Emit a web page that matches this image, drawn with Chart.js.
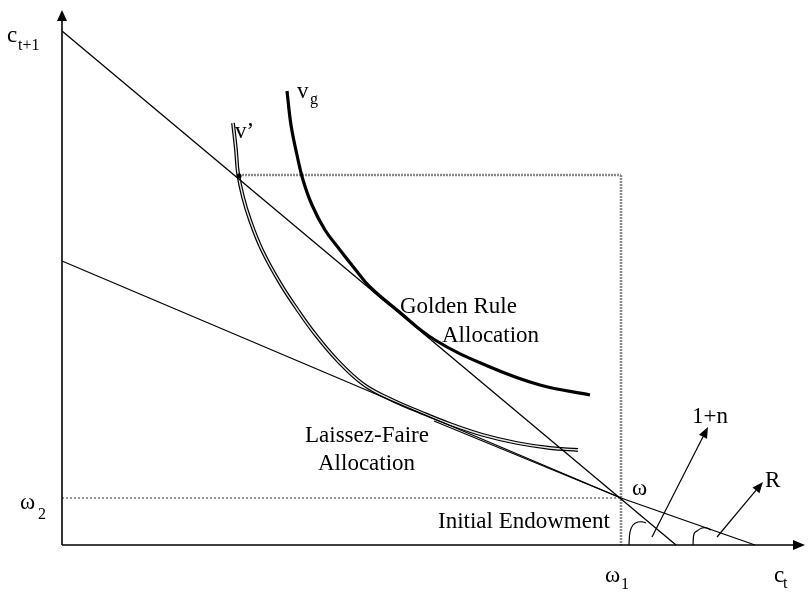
<!DOCTYPE html>
<html>
<head>
<meta charset="utf-8">
<title>Golden Rule vs Laissez-Faire</title>
<script src="https://cdn.jsdelivr.net/npm/chart.js@4.4.1/dist/chart.umd.min.js"></script>
<style>
  body { margin: 0; background: #fff; }
  #wrap { position: relative; width: 809px; height: 592px; }
</style>
</head>
<body>
<div id="wrap"><canvas id="diagram"></canvas></div>
<script>
  // values (units: c_t to the right, c_t+1 upward)
  var omega1 = 559;
  var omega2 = 47;

  // budget line with slope 1+n (golden rule)
  var steepX = [0, 614];
  var steepY = [514, 0];

  // budget line with slope R (laissez-faire), slightly bent at omega as drawn
  var flatX = [0, omega1, 693];
  var flatY = [284, omega2, 0];

  // second stroke that doubles the R line between tangency and omega
  var flatDoubleX = [372, omega1];
  var flatDoubleY = [124, omega2];

  // indifference curve v_g (thick)
  var goldenX = [225, 229, 235, 241, 250, 263, 278, 293, 308, 335, 373, 428, 478, 528];
  var goldenY = [454, 420, 390, 365, 340, 315, 295, 276, 258, 235, 205, 178, 160, 150];

  // indifference curve v' (double line)
  var laissezX = [171, 174, 176, 181, 188, 200, 218, 235, 253, 275, 301, 328, 358, 388, 421, 455, 488, 516];
  var laissezY = [422, 395, 372, 348, 325, 295, 262, 236, 211, 185, 161, 146, 133, 121, 110, 102, 97, 95];

  // point where v' meets the 1+n line
  var vPrimePoint = [177, 369];

  // angle marks at the two x-intercepts
  var arcNX = [567, 568, 571, 576, 581, 584];
  var arcNY = [0, 13, 20, 23, 23, 22];
  var arcRX = [631, 632, 635, 640, 645, 649];
  var arcRY = [0, 11, 14, 17, 17, 15];

  var xMax = 743;
  var yMax = 535;

  // arrows: axes plus the two slope vectors
  var arrows = [
    { from: [0, 0], to: [0, yMax], w: 1.6, len: 11, half: 5 },
    { from: [0, 0], to: [xMax, 0], w: 1.6, len: 12, half: 5 },
    { from: [590, 8], to: [646, 118], w: 1.2, len: 11, half: 4.5 },
    { from: [655, 8], to: [701, 63], w: 1.2, len: 11, half: 4.5 }
  ];

  // text labels (size 23 = main, 16 = subscript)
  var labels = [
    { t: "c", x: -55, y: 503, s: 23 },
    { t: "t+1", x: -44, y: 495, s: 16 },
    { t: "\u03c9", x: -42, y: 36, s: 23 },
    { t: "2", x: -24, y: 26, s: 16 },
    { t: "\u03c9", x: 543, y: -37, s: 23 },
    { t: "1", x: 559, y: -44, s: 16 },
    { t: "c", x: 712, y: -37, s: 23 },
    { t: "t", x: 721, y: -43, s: 16 },
    { t: "\u03c9", x: 570, y: 50, s: 23 },
    { t: "1+n", x: 630, y: 122, s: 23 },
    { t: "R", x: 703, y: 58, s: 23 },
    { t: "Initial Endowment", x: 376, y: 17, s: 23 },
    { t: "Golden Rule", x: 338, y: 232, s: 23 },
    { t: "Allocation", x: 380, y: 203, s: 23 },
    { t: "Laissez-Faire", x: 243, y: 103, s: 23 },
    { t: "Allocation", x: 256, y: 75, s: 23 },
    { t: "v\u2019", x: 173, y: 407, s: 23 },
    { t: "v", x: 235, y: 447, s: 23 },
    { t: "g", x: 248, y: 441, s: 16 }
  ];

  function pts(xs, ys) {
    return xs.map(function (v, i) {
      return { x: v, y: ys[i] };
    });
  }

  function line(data, color, width, order, extra) {
    var ds = {
      data: data,
      borderColor: color,
      borderWidth: width,
      pointRadius: 0,
      fill: false,
      clip: false,
      order: order
    };
    for (var k in extra || {}) ds[k] = extra[k];
    return ds;
  }

  function drawArrow(ctx, x1, y1, x2, y2, w, len, half) {
    var a = Math.atan2(y2 - y1, x2 - x1);
    var bx = x2 - len * Math.cos(a);
    var by = y2 - len * Math.sin(a);
    ctx.strokeStyle = "#000";
    ctx.lineWidth = w;
    ctx.beginPath();
    ctx.moveTo(x1, y1);
    ctx.lineTo(bx, by);
    ctx.stroke();
    ctx.fillStyle = "#000";
    ctx.beginPath();
    ctx.moveTo(x2, y2);
    ctx.lineTo(bx + half * Math.sin(a), by - half * Math.cos(a));
    ctx.lineTo(bx - half * Math.sin(a), by + half * Math.cos(a));
    ctx.closePath();
    ctx.fill();
  }

  var annot = {
    id: "annot",
    afterDraw: function (chart) {
      var ctx = chart.ctx;
      var sx = chart.scales.x;
      var sy = chart.scales.y;
      ctx.save();
      arrows.forEach(function (a) {
        drawArrow(ctx,
          sx.getPixelForValue(a.from[0]), sy.getPixelForValue(a.from[1]),
          sx.getPixelForValue(a.to[0]), sy.getPixelForValue(a.to[1]),
          a.w, a.len, a.half);
      });
      ctx.fillStyle = "#000";
      ctx.textBaseline = "alphabetic";
      ctx.textAlign = "left";
      labels.forEach(function (l) {
        ctx.font = l.s + 'px "Liberation Serif", "Times New Roman", serif';
        ctx.fillText(l.t, sx.getPixelForValue(l.x), sy.getPixelForValue(l.y));
      });
      ctx.restore();
    }
  };

  var dotted = { borderDash: [2, 1] };
  var smooth = { tension: 0.4 };

  new Chart(document.getElementById("diagram"), {
    type: "line",
    data: {
      datasets: [
        // dotted guides
        line(pts([vPrimePoint[0], omega1], [370, 370]), "#8c8c8c", 2.6, 20, dotted),
        line(pts([omega1, omega1], [370, 0]), "#8c8c8c", 2.6, 20, dotted),
        line(pts([0, omega1], [omega2, omega2]), "#555", 1.2, 20, { borderDash: [2, 2] }),
        // v' drawn as a double line
        line(pts(laissezX, laissezY), "#000", 3.8, 12, smooth),
        line(pts(laissezX, laissezY), "#e6e6e6", 1.4, 11, smooth),
        // budget lines
        line(pts(steepX, steepY), "#000", 1.3, 8),
        line(pts(flatX, flatY), "#000", 1.3, 8),
        line(pts(flatDoubleX, flatDoubleY), "#000", 1.1, 8),
        // v_g
        line(pts(goldenX, goldenY), "#000", 3.2, 5, smooth),
        // angle marks
        line(pts(arcNX, arcNY), "#000", 1.2, 4, smooth),
        line(pts(arcRX, arcRY), "#000", 1.2, 4, smooth),
        // v' point on the 1+n line
        {
          data: [{ x: vPrimePoint[0], y: vPrimePoint[1] }],
          showLine: false,
          pointRadius: 2.6,
          pointBackgroundColor: "#000",
          pointBorderWidth: 0,
          clip: false,
          order: 0
        }
      ]
    },
    options: {
      responsive: true,
      maintainAspectRatio: false,
      animation: false,
      layout: { padding: { left: 62, right: 4, top: 10, bottom: 47 } },
      plugins: {
        legend: { display: false },
        tooltip: { enabled: false }
      },
      scales: {
        x: { type: "linear", min: 0, max: xMax, display: false },
        y: { type: "linear", min: 0, max: yMax, display: false }
      }
    },
    plugins: [annot]
  });
</script>
</body>
</html>
